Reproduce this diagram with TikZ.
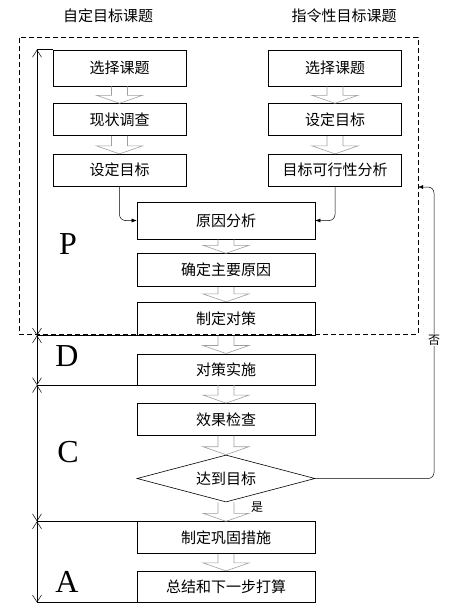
\documentclass[tikz,border=0pt]{standalone}
\usepackage{fontspec}
\setmainfont{Liberation Serif}
\newfontfamily\cjk{Noto Sans CJK SC}
\usetikzlibrary{positioning,shapes.geometric,arrows.meta,calc}
\newcommand{\hollow}[2]{\draw[hol] ($(#1.south)+(-8,0)$) -- ($(#2.north)+(-8,-8)$) -- ($(#2.north)+(-23,-8)$) -- (#2.north) -- ($(#2.north)+(23,-8)$) -- ($(#2.north)+(8,-8)$) -- ($(#1.south)+(8,0)$);}
\begin{document}
\begin{tikzpicture}[x=1pt, y=-1pt,
	box/.style = {draw, line width=0.6pt, minimum width=133pt, minimum height=32pt, inner sep=0pt, font=\cjk\fontsize{15}{15}\selectfont},
	cbox/.style = {box, minimum width=178pt},
	dec/.style = {draw, diamond, aspect=3.8, line width=0.6pt, minimum width=178pt, minimum height=47pt, inner sep=0pt, font=\cjk\fontsize{15}{15}\selectfont},
	hol/.style = {draw=gray!75, line width=0.6pt},
	pd/.style = {{Straight Barb[length=7pt,width=9pt]}-{Straight Barb[length=7pt,width=9pt]}, line width=0.5pt},
	frame/.style = {draw, dashed, dash pattern=on 5pt off 3pt, line width=0.6pt},
	big/.style = {font=\fontsize{32}{32}\selectfont, inner sep=0pt},
	lab/.style = {font=\cjk\fontsize{15}{15}\selectfont},
	sm/.style = {font=\cjk\fontsize{12}{12}\selectfont, inner sep=1pt},
	tip/.style = {-{Latex[length=5pt,width=4pt]}, line width=0.5pt, rounded corners=6pt}]
	\useasboundingbox (0,0) rectangle (454,610);
	\node[lab] (t1) at (108,16) {自定目标课题};
	\node[lab] (t2) at (344,16) {指令性目标课题};
	\node[frame, minimum width=399pt, minimum height=297pt] (pl) at (218.5,185.5) {};
	\node[box, minimum height=36pt] (s1) at (119.5,68) {选择课题};
	\node[box] (xz) [below=17pt of s1] {现状调查};
	\node[box] (d1) [below=18pt of xz] {设定目标};
	\node[box, minimum height=36pt] (s2) at (335,68) {选择课题};
	\node[box] (d2) [below=17pt of s2] {设定目标};
	\node[box] (kx) [below=18pt of d2] {目标可行性分析};
	\node[cbox, minimum height=37pt] (yy) at (226,220.5) {原因分析};
	\node[cbox, minimum height=33pt] (zy) [below=14pt of yy] {确定主要原因};
	\node[cbox, minimum height=33pt] (dc) [below=15pt of zy] {制定对策};
	\node[cbox, minimum height=31pt] (ss) [below=18pt of dc] {对策实施};
	\node[cbox] (jc) [below=18pt of ss] {效果检查};
	\node[dec] (dm) [below=19pt of jc] {达到目标};
	\node[cbox] (gg) [below=19pt of dm] {制定巩固措施};
	\node[cbox, minimum height=31pt] (zj) [below=17pt of gg] {总结和下一步打算};
	\hollow{s1}{xz}
	\hollow{xz}{d1}
	\hollow{s2}{d2}
	\hollow{d2}{kx}
	\hollow{yy}{zy}
	\hollow{zy}{dc}
	\hollow{dc}{ss}
	\hollow{ss}{jc}
	\hollow{jc}{dm}
	\hollow{dm}{gg}
	\hollow{gg}{zj}
	\draw[tip] (d1.south) |- (yy.west);
	\draw[tip] (kx.south) |- (yy.east);
	\coordinate (fb) at (418,187);
	\draw[tip] (dm.east) -| ($(fb)+(16,0)$) -- (fb);
	\node[sm, fill=white] (no) at (434,340) {否};
	\node[sm] (yes) at (257,507) {是};
	\coordinate (ax) at (37,0);
	\draw[pd] (ax |- s1.north) -- (ax |- dc.south);
	\draw[pd] (ax |- dc.south) -- (ax |- ss.south);
	\draw[pd] (ax |- ss.south) -- (ax |- gg.north);
	\draw[pd] (ax |- gg.north) -- (ax |- zj.south);
	\draw[line width=0.5pt] (ax |- s1.north) -- (s1.north west);
	\draw[line width=0.5pt] (ax |- dc.south) -- (dc.south west);
	\draw[line width=0.5pt] (ax |- ss.south) -- (ss.south west);
	\draw[line width=0.5pt] (ax |- gg.north) -- (gg.north west);
	\draw[line width=0.5pt] (ax |- zj.south) -- (zj.south west);
	\node[big] (P) at (68,244) {P};
	\node[big] (D) at (67,356) {D};
	\node[big] (C) at (68,452) {C};
	\node[big] (A) at (67,582) {A};
\end{tikzpicture}
\end{document}
